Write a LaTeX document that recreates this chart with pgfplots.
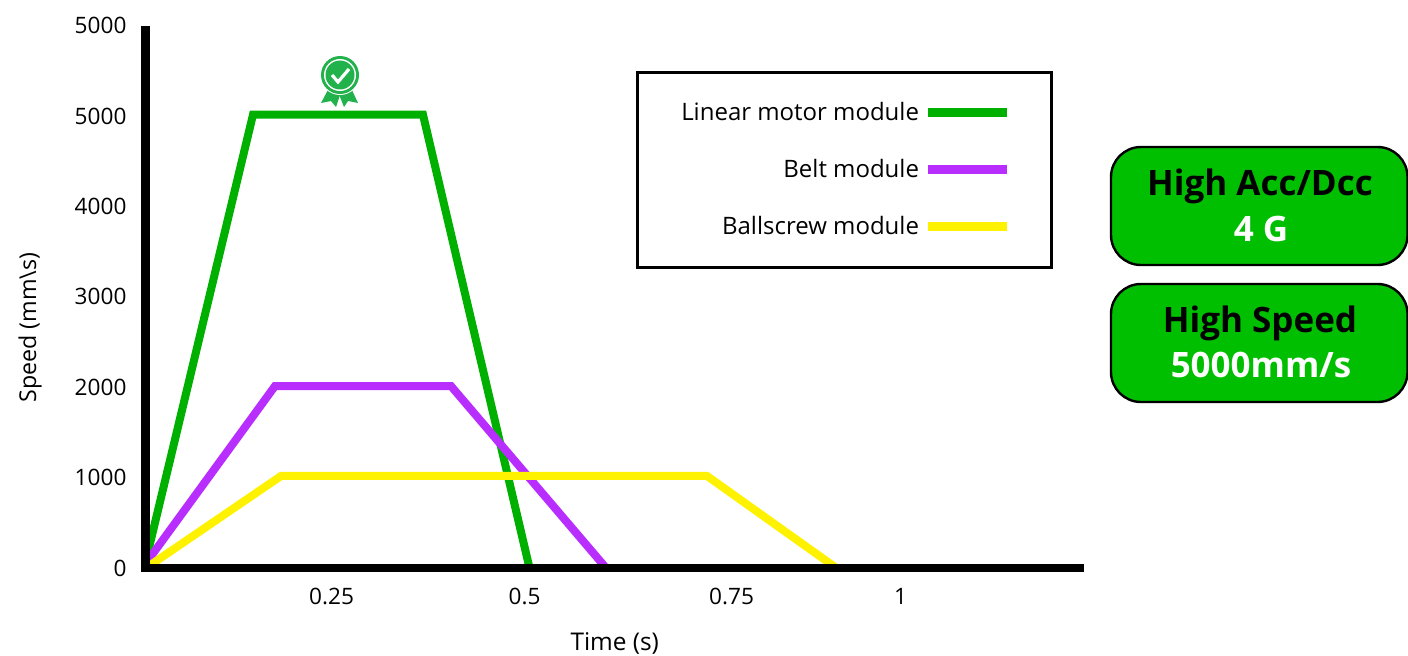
\documentclass[border=0pt]{standalone}
\usepackage{fontspec}
\setmainfont{Open Sans}
\usepackage{pgfplots}
\pgfplotsset{compat=1.18}

\definecolor{lgreen}{HTML}{00B000}
\definecolor{lpurple}{HTML}{B82EFF}
\definecolor{lyellow}{HTML}{FFF200}
\definecolor{boxgreen}{HTML}{00BF00}
\definecolor{badge}{HTML}{22B24C}

\begin{document}
\begin{tikzpicture}
\path[use as bounding box] (0,0) rectangle (704pt,327.5pt);

\begin{axis}[
    at={(72.75pt,43.5pt)},
    anchor=origin,
    scale only axis,
    width=469.25pt,
    height=271.2pt,
    xmin=0, xmax=1.243,
    ymin=0, ymax=6000,
    axis lines=left,
    axis line style={-, line width=4.25pt},
    axis on top,
    major tick length=0pt,
    xtick={0.2464,0.502,0.7762,1.0},
    xticklabels={0.25,0.5,0.75,1},
    ytick={0,1000,2000,3000,4000,5000,6000},
    yticklabels={0,1000,2000,3000,4000,5000,5000},
    tick label style={font=\fontsize{11.3}{13}\selectfont},
    /pgf/number format/assume math mode=true,
    xticklabel style={yshift=-6.5pt},
    yticklabel style={xshift=-6pt},
    xlabel={Time (s)},
    ylabel={Speed (mm\textbackslash s)},
    xlabel style={font=\fontsize{12.2}{14}\selectfont,at={(axis description cs:0.5,0)},anchor=center,yshift=-37.5pt},
    ylabel style={font=\fontsize{11.6}{14}\selectfont,at={(axis description cs:-0.123,0.443)},anchor=center},
    legend style={
        at={(1052.5*0.5pt-72.75pt,327.5pt-71*0.5pt-43.5pt)},
        anchor=north east,
        draw=black, line width=1.5pt,
        inner xsep=20pt, inner ysep=12.7pt,
        font=\fontsize{12}{14}\selectfont,
        row sep=14pt,
        cells={anchor=east},
    },
    legend plot pos=right,
    legend image code/.code={\draw[#1, line width=4.5pt] (0,0) -- (39.5pt,0);},
]
\addplot[lgreen, line width=4pt, line join=miter] coordinates {
    (0.0007,88) (0.1424,5015) (0.3675,5015) (0.5086,0)
};
\addplot[lpurple, line width=4pt, line join=miter] coordinates {
    (0.0007,55) (0.1715,2013) (0.4046,2013) (0.6100,0)
};
\addplot[lyellow, line width=4pt, line join=miter] coordinates {
    (0.0007,0) (0.1795,1018) (0.7437,1018) (0.9150,0)
};
\legend{Linear motor module, Belt module, Ballscrew module}
\end{axis}

% pixel coordinates of the reference from here on
\begin{scope}[x=0.5pt,y=-0.5pt,yshift=327.5pt]
  % corner of the two axis lines
  \fill[black] (141,563.75) rectangle (150,572.25);
  % award badge
  \fill[badge] (329,88) -- (321,103) -- (331,101) -- (336,107) -- (341,92) -- cycle;
  \fill[badge] (351,88) -- (358,103) -- (348,101) -- (344,107) -- (338,92) -- cycle;
  \fill[white] (340,75) circle (20);
  \fill[badge] (340,75) circle (19);
  \fill[white] (340,75) circle (16);
  \fill[badge] (340,75) circle (14.5);
  \draw[white, line width=1.6pt] (332,75) -- (338,82) -- (349,69);
  % info boxes
  \draw[fill=boxgreen, draw=black, line width=1.2pt, rounded corners=15pt]
    (1111,147) rectangle (1407.5,265);
  \draw[fill=boxgreen, draw=black, line width=1.2pt, rounded corners=15pt]
    (1111,284) rectangle (1407.5,402);
  \node[anchor=base, font=\fontsize{17.5}{20}\selectfont\bfseries] at (1260,195) {High Acc/Dcc};
  \node[anchor=base, font=\fontsize{17.5}{20}\selectfont\bfseries, text=white] at (1261,241) {4 G};
  \node[anchor=base, font=\fontsize{17.5}{20}\selectfont\bfseries] at (1260,332) {High Speed};
  \node[anchor=base, font=\fontsize{17.5}{20}\selectfont\bfseries, text=white] at (1261,377) {5000mm/s};
\end{scope}
\end{tikzpicture}
\end{document}
